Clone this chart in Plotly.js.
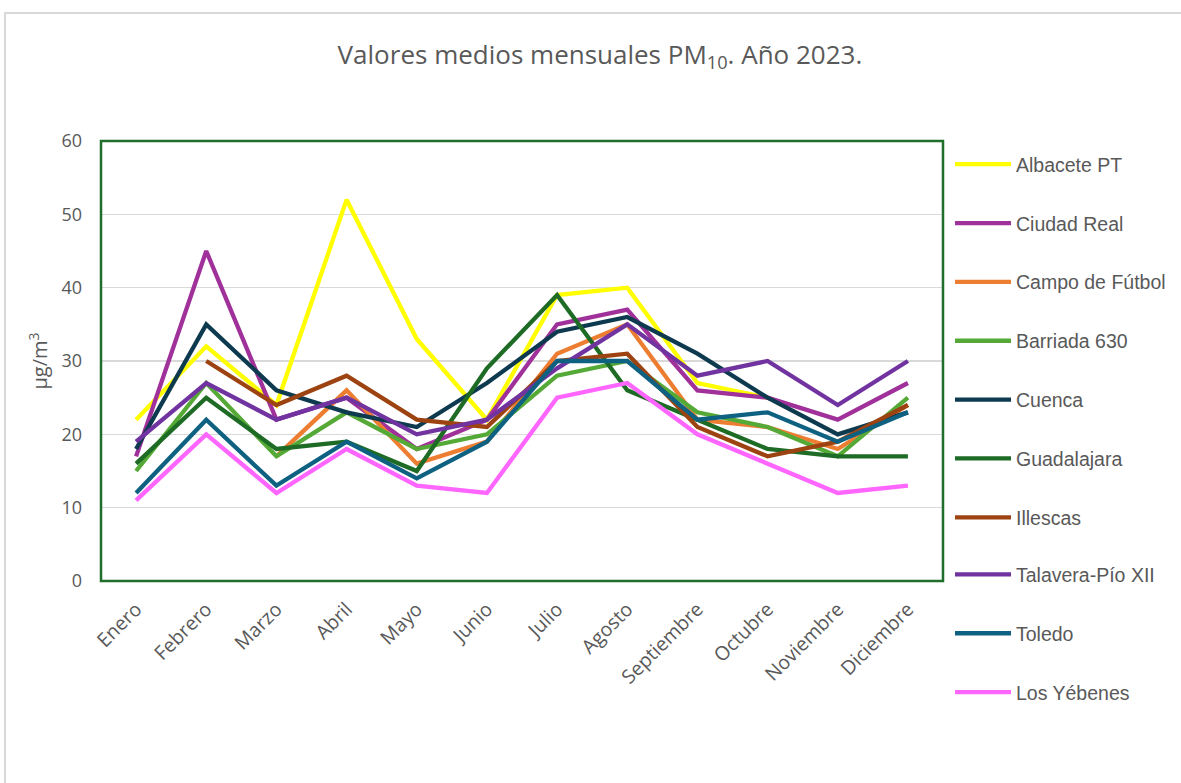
<!DOCTYPE html>
<html>
<head>
<meta charset="utf-8">
<script src="https://cdn.plot.ly/plotly-3.0.1.min.js"></script>
<style>
  html, body { margin: 0; padding: 0; background: #ffffff; }
  #wrap { position: relative; width: 1181px; height: 783px; overflow: hidden; }
  #chart { position: absolute; left: 0; top: 0; width: 1181px; height: 783px; }
  #frame { position: absolute; left: 4px; top: 12px; width: 1200px; height: 800px;
           border: 2px solid #d9d9d9; pointer-events: none; }
</style>
</head>
<body>
<div id="wrap">
  <div id="chart"></div>
  <div id="frame"></div>
</div>
<script>
const months = ["Enero","Febrero","Marzo","Abril","Mayo","Junio","Julio","Agosto","Septiembre","Octubre","Noviembre","Diciembre"];

const albacetePT   = [22, 32, 24, 52, 33, 22, 39, 40, 27, 25, null, null];
const ciudadReal   = [17, 45, 22, 25, 18, 22, 35, 37, 26, 25, 22, 27];
const campoFutbol  = [null, null, 17, 26, 16, 19, 31, 35, 22, 21, 18, 24];
const barriada630  = [15, 27, 17, 23, 18, 20, 28, 30, 23, 21, 17, 25];
const cuenca       = [18, 35, 26, 23, 21, 27, 34, 36, 31, 25, 20, 23];
const guadalajara  = [16, 25, 18, 19, 15, 29, 39, 26, 22, 18, 17, 17];
const illescas     = [null, 30, 24, 28, 22, 21, 30, 31, 21, 17, 19, 24];
const talavera     = [19, 27, 22, 25, 20, 22, 29, 35, 28, 30, 24, 30];
const toledo       = [12, 22, 13, 19, 14, 19, 30, 30, 22, 23, 19, 23];
const losYebenes   = [11, 20, 12, 18, 13, 12, 25, 27, 20, 16, 12, 13];

const seriesNames  = ["Albacete PT","Ciudad Real","Campo de Fútbol","Barriada 630","Cuenca","Guadalajara","Illescas","Talavera-Pío XII","Toledo","Los Yébenes"];
const seriesValues = [albacetePT, ciudadReal, campoFutbol, barriada630, cuenca, guadalajara, illescas, talavera, toledo, losYebenes];
const seriesColors = ["#FFFF00","#A0309A","#ED7D31","#55A936","#0E3A4F","#1E6B25","#9C4311","#7133A0","#0F6182","#FF66FF"];

const yTicks = [0, 10, 20, 30, 40, 50, 60];

const traces = seriesNames.map((name, i) => ({
  type: "scatter",
  mode: "lines",
  name: name,
  x: months,
  y: seriesValues[i],
  line: { color: seriesColors[i], width: 4.3 },
  legendgroup: "g" + i,
  legend: i < 7 ? "legend" : "legend2",
  connectgaps: false
}));

const legendFont = { family: "Liberation Sans, Arial, sans-serif", size: 19.5, color: "#595959" };
const gap = 30.5;

const layout = {
  width: 1181,
  height: 783,
  paper_bgcolor: "rgba(0,0,0,0)",
  plot_bgcolor: "#ffffff",
  margin: { l: 101, r: 238, t: 141, b: 202 },
  title: {
    text: "Valores medios mensuales PM<sub>10</sub>. Año 2023.",
    x: 0.508, xref: "container", xanchor: "center",
    y: 0.93, yref: "container", yanchor: "middle",
    font: { family: "Open Sans, Noto Sans, sans-serif", size: 26, color: "#595959" }
  },
  xaxis: {
    type: "category",
    range: [-0.5, 11.5],
    tickangle: -45,
    showgrid: false,
    zeroline: false,
    showline: false,
    ticks: "",
    ticklabelstandoff: 12,
    tickfont: { family: "Open Sans, Noto Sans, sans-serif", size: 19.5, color: "#595959" }
  },
  yaxis: {
    range: [0, 60],
    tickvals: yTicks,
    ticktext: yTicks.map(String),
    showgrid: true,
    gridcolor: "#d9d9d9",
    gridwidth: 1.5,
    zeroline: false,
    showline: false,
    ticks: "",
    ticklabelstandoff: 18,
    tickfont: { family: "Open Sans, Noto Sans, sans-serif", size: 18, color: "#595959" },
    title: {
      text: "μg/m<sup>3</sup>",
      standoff: 8,
      font: { family: "Open Sans, Noto Sans, sans-serif", size: 20, color: "#595959" }
    }
  },
  shapes: [{
    type: "rect", xref: "paper", yref: "paper", x0: 0, x1: 1, y0: 0, y1: 1,
    line: { color: "#1F6E2B", width: 2.5 }, layer: "above"
  }],
  showlegend: true,
  legend: {
    xref: "container", yref: "container",
    x: 950 / 1181, xanchor: "left",
    y: 1 - 145 / 783, yanchor: "top",
    bgcolor: "rgba(0,0,0,0)",
    font: legendFont,
    tracegroupgap: gap,
    itemwidth: 56,
    traceorder: "grouped"
  },
  legend2: {
    xref: "container", yref: "container",
    x: 950 / 1181, xanchor: "left",
    y: 1 - (145 + 7 * 58.6) / 783, yanchor: "top",
    bgcolor: "rgba(0,0,0,0)",
    font: legendFont,
    tracegroupgap: gap,
    itemwidth: 56,
    traceorder: "grouped"
  }
};

Plotly.newPlot("chart", traces, layout, { displayModeBar: false, staticPlot: true });
</script>
</body>
</html>
